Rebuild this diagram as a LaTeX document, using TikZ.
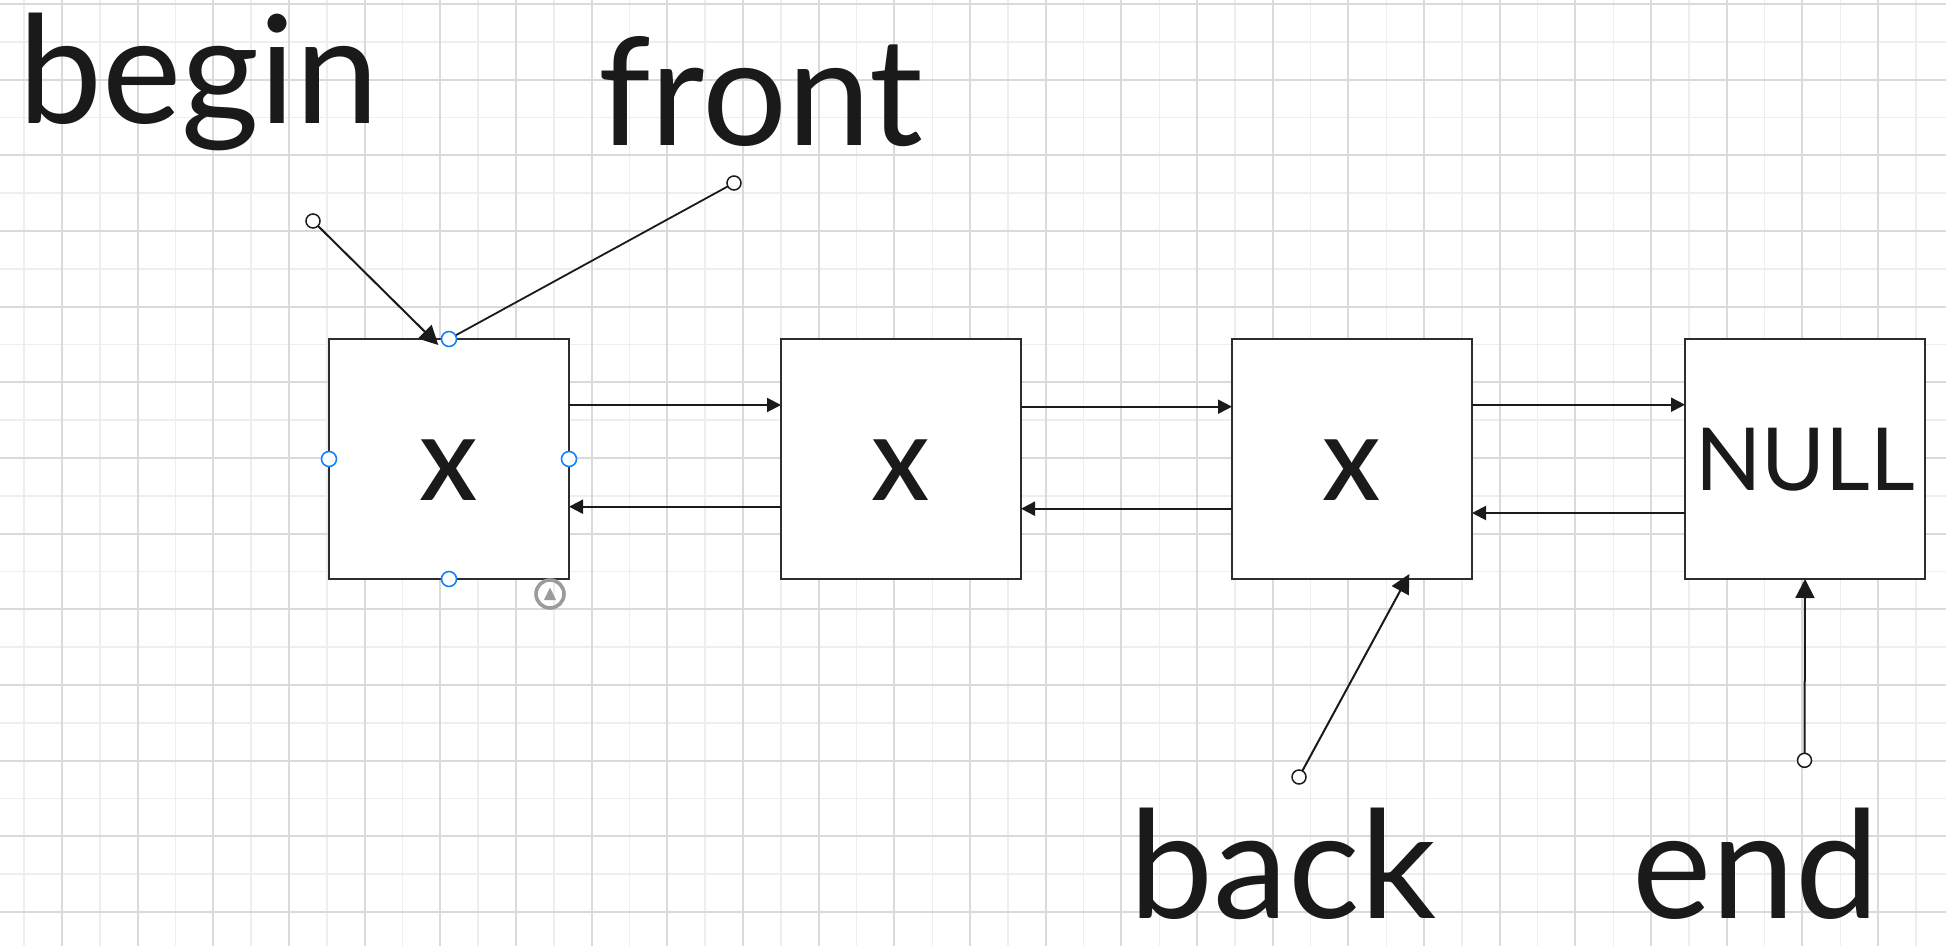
\documentclass[tikz,border=0pt]{standalone}
\usepackage{fontspec}
\setmainfont{Lato}
\usetikzlibrary{arrows.meta,calc}
\definecolor{gridd}{RGB}{218,218,218}
\definecolor{gridl}{RGB}{238,238,238}
\definecolor{ink}{RGB}{26,26,26}
\definecolor{boxline}{RGB}{45,45,45}
\definecolor{handle}{RGB}{20,130,255}
\definecolor{uigray}{RGB}{155,155,155}
\begin{document}
\begin{tikzpicture}[x=0.5pt,y=-0.5pt,
  gdark/.style={draw=gridd,line width=1pt},
  glight/.style={draw=gridl,line width=0.75pt},
  cell/.style={draw=boxline,line width=1pt,fill=white,minimum width=120pt,minimum height=120pt,inner sep=0pt,outer sep=0pt,text=ink},
  xtext/.style={font=\fontsize{42}{50}\selectfont\bfseries,text height=41pt,text depth=0pt},
  ntext/.style={font=\fontsize{43.5}{50}\selectfont,text height=31.7pt,text depth=0pt},
  lbl/.style={font=\fontsize{75}{90}\selectfont,text=ink,inner sep=0pt,anchor=base},
  flat/.style={text depth=0pt},
  fwd/.style={draw=ink,line width=1pt,-{Triangle[length=7pt,width=7pt]}},
  ptr/.style={draw=ink,line width=1pt,-{Triangle[length=9.5pt,width=9.5pt]}},
  conn/.style={draw=ink,line width=0.9pt},
  endc/.style={circle,draw=ink,fill=white,line width=0.75pt,minimum size=7pt,inner sep=0pt,outer sep=0pt},
  hnd/.style={circle,draw=handle,fill=white,line width=0.8pt,minimum size=7.5pt,inner sep=0pt},
  uiicon/.style={circle,draw=uigray,line width=1.8pt,minimum size=14pt,inner sep=0pt}]
\useasboundingbox (0,0) rectangle (1946,946);
\fill[white] (0,0) rectangle (1946,946);
% grid
\foreach \i in {0,...,25} {\draw[glight] ({24.2+75.67*\i},0) -- ++(0,946);}
\foreach \i in {0,...,11} {\draw[glight] (0,{41.8+75.67*\i}) -- ++(1946,0);}
\foreach \i in {0,...,24} {\draw[gdark] ({61.9+75.67*\i},0) -- ++(0,946);}
\foreach \i in {0,...,12} {\draw[gdark] (0,{4+75.67*\i}) -- ++(1946,0);}
% boxes
\node[cell,xtext] (b1) at (449,459) {X};
\node[cell,xtext] (b2) at (901,459) {X};
\node[cell,xtext] (b3) at (1352,459) {X};
\node[cell,ntext] (b4) at (1805,459) {NULL};
% box links
\draw[fwd] ($(b1.east)+(0,-54)$) -- ($(b2.west)+(0,-54)$);
\draw[fwd] ($(b2.east)+(0,-52.3)$) -- ($(b3.west)+(0,-52.3)$);
\draw[fwd] ($(b3.east)+(0,-54.3)$) -- ($(b4.west)+(0,-54.3)$);
\draw[fwd] ($(b2.west)+(0,47.7)$) -- ($(b1.east)+(0,47.7)$);
\draw[fwd] ($(b3.west)+(0,49.7)$) -- ($(b2.east)+(0,49.7)$);
\draw[fwd] ($(b4.west)+(0,54)$) -- ($(b3.east)+(0,54)$);
% pointer labels
\node[lbl] (tbegin) at (198.7,123.3) {begin};
\node[lbl] (tfront) at (760.8,146) {front};
\node[lbl,flat] (tback) at (1283,918) {back};
\node[lbl,flat] (tend) at (1756,918) {end};
% pointer start circles
\node[endc] (cb) at (313,221) {};
\node[endc] (cf) at (734,183) {};
\node[endc] (ck) at (1299,777) {};
\node[endc] (ce) at (1804.5,760.3) {};
\coordinate (tb) at ($(b1.north)+(-10.7,6)$);
\coordinate (tk) at ($(b3.south)+(57.3,-5)$);
\draw[ptr] (cb) -- (tb);
\draw[conn] (cf) -- (b1.north);
\draw[ptr] (ck) -- (tk);
\draw[ptr] (ce) -- (b4.south);
% selection handles
\node[hnd] (hn) at (b1.north) {};
\node[hnd] (hw) at (b1.west) {};
\node[hnd] (he) at (b1.east) {};
\node[hnd] (hs) at (b1.south) {};
\node[uiicon] (ui) at (550,594) {};
\fill[uigray] ($(ui)+(-6,6)$) -- ($(ui)+(6,6)$) -- ($(ui)+(0,-6.5)$) -- cycle;
\end{tikzpicture}
\end{document}
